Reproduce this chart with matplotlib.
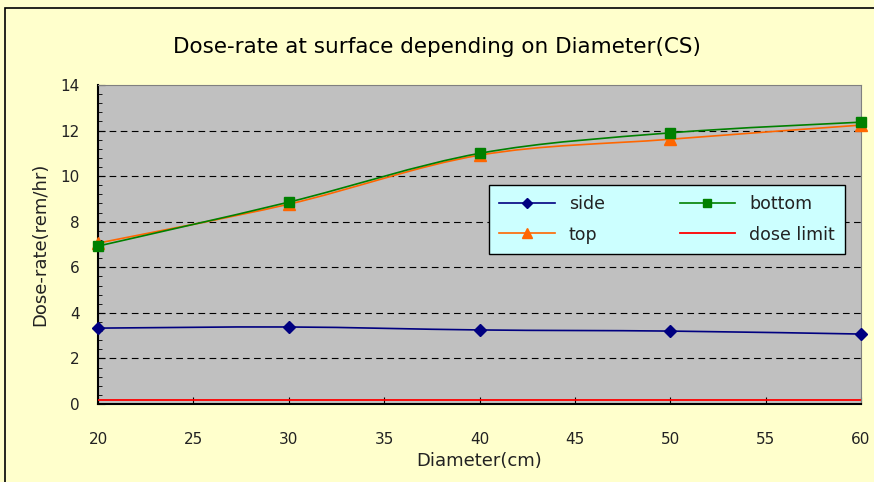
import numpy as np
import matplotlib
matplotlib.use("Agg")
import matplotlib.pyplot as plt
from matplotlib.path import Path
from matplotlib.patches import PathPatch, Rectangle
from matplotlib.lines import Line2D

diameter = [20, 30, 40, 50, 60]
side = [3.33, 3.38, 3.25, 3.2, 3.07]
bottom = [6.93, 8.86, 11.0, 11.9, 12.37]
top = [7.06, 8.77, 10.92, 11.62, 12.24]
dose_limit = [0.18, 0.18, 0.18, 0.18, 0.18]


def smooth_path(x, y):
    # excel-like smoothed line: bezier segments through the points
    x = np.asarray(x, float)
    y = np.asarray(y, float)
    verts = [(x[0], y[0])]
    codes = [Path.MOVETO]
    n = len(x)
    for i in range(n - 1):
        x0, y0 = (x[i - 1], y[i - 1]) if i > 0 else (x[i], y[i])
        x3, y3 = (x[i + 2], y[i + 2]) if i + 2 < n else (x[i + 1], y[i + 1])
        c1 = (x[i] + (x[i + 1] - x0) / 6, y[i] + (y[i + 1] - y0) / 6)
        c2 = (x[i + 1] - (x3 - x[i]) / 6, y[i + 1] - (y3 - y[i]) / 6)
        verts += [c1, c2, (x[i + 1], y[i + 1])]
        codes += [Path.CURVE4] * 3
    return Path(verts, codes)


fig = plt.figure(figsize=(8.74, 4.82), dpi=100, facecolor="#FFFFCC")
fig.patches.append(Rectangle((5 / 874, -0.1), 1.2, 1 - 8 / 482 + 0.1, transform=fig.transFigure,
                             facecolor="none", edgecolor="black", lw=1.2))
ax = fig.add_axes([98 / 874, 1 - 404 / 482, (861 - 98) / 874, (404 - 85) / 482])
ax.set_facecolor("#C0C0C0")

series = [
    (side, "#000080", "D", 6, "side"),
    (top, "#FF6600", "^", 8, "top"),
    (bottom, "#008000", "s", 7, "bottom"),
]
handles = []
for vals, col, mk, ms, name in series:
    ax.add_patch(PathPatch(smooth_path(diameter, vals), facecolor="none", edgecolor=col, lw=1.2, zorder=3))
    ax.plot(diameter, vals, ls="none", marker=mk, ms=ms, color=col, zorder=4, clip_on=False)
    handles.append(Line2D([], [], color=col, marker=mk, ms=ms - 1, lw=1.2, label=name))
ax.plot(diameter, dose_limit, color="red", lw=1.3, zorder=3)
handles.append(Line2D([], [], color="red", lw=1.3, label="dose limit"))

ax.set_xlim(20, 60)
ax.set_ylim(0, 14)
ax.set_xticks(range(20, 61, 5))
ax.set_yticks(range(0, 15, 2))
ax.set_yticks(np.arange(0, 14.01, 0.4), minor=True)
ax.tick_params(axis="both", direction="in", labelsize=11, color="black", labelcolor="#222222", length=5)
ax.tick_params(axis="y", which="minor", direction="in", length=3)
ax.tick_params(axis="y", pad=13)
ax.tick_params(axis="x", pad=20)
for y in range(2, 13, 2):
    ax.axhline(y, color="black", ls=(0, (6, 4)), lw=0.8, zorder=1)

for s in ["top", "right"]:
    ax.spines[s].set_color("#808080")
for s in ["left", "bottom"]:
    ax.spines[s].set_color("black")
    ax.spines[s].set_linewidth(1.5)

ax.set_xlabel("Diameter(cm)", fontsize=13, labelpad=4, color="#222222")
ax.set_ylabel("Dose-rate(rem/hr)", fontsize=13, labelpad=8, color="#222222")
fig.text(0.5, 1 - 47 / 482, "Dose-rate at surface depending on Diameter(CS)", ha="center", va="center",
         fontsize=15.5)

leg = ax.legend(handles=handles, ncol=2, loc="upper left", bbox_to_anchor=((489 - 98) / 763, (404 - 185) / 319),
                facecolor="#CCFFFF", edgecolor="black", framealpha=1, fancybox=False, fontsize=12.5,
                columnspacing=4.3, handlelength=3.2, borderpad=0.6, labelspacing=0.7, borderaxespad=0)
leg.get_frame().set_linewidth(1)
for t in leg.get_texts():
    t.set_color("#222222")

fig.savefig("out.png", dpi=100, facecolor=fig.get_facecolor())
